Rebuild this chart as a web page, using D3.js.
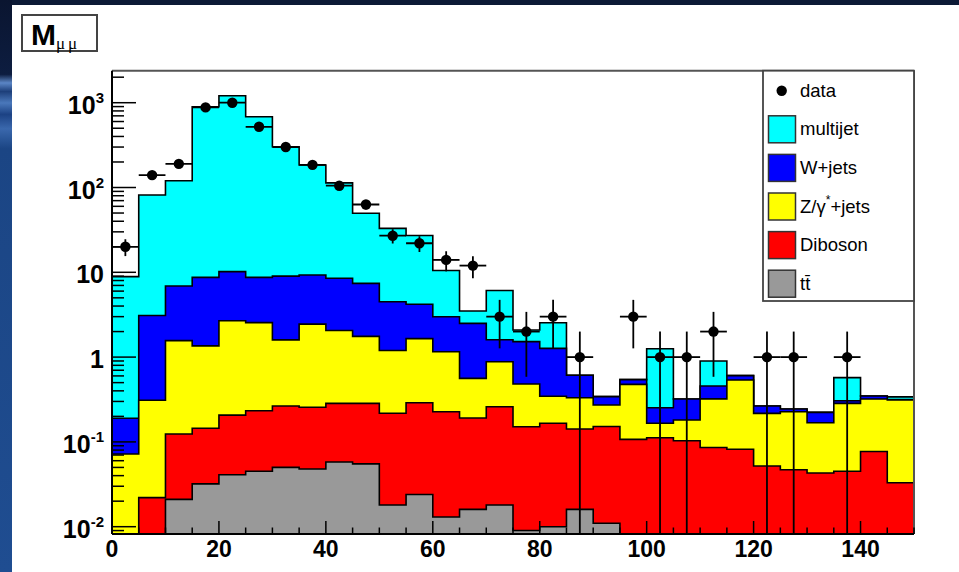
<!DOCTYPE html>
<html>
<head>
<meta charset="utf-8">
<script src="https://cdn.jsdelivr.net/npm/d3@7/dist/d3.min.js"></script>
<style>
  html, body { margin: 0; padding: 0; background: #0c1a36; }
  svg { display: block; }
</style>
</head>
<body>
<svg id="chart" width="959" height="572"></svg>
<script>
// ---------------- DATA ----------------
// bin low edges (GeV), bin width 5 GeV
const binLow = [0,5,10,15,20,25,30,35,40,45,50,55,60,65,70,75,80,85,90,95,100,105,110,115,120,125,130,135,140,145];
const binWidth = 5;

// stacked backgrounds (events per bin), bottom -> top
const ttbar    = [0,0,0.021,0.032,0.041,0.045,0.050,0.048,0.058,0.055,0.018,0.024,0.013,0.016,0.018,0.009,0.010,0.016,0.011,0,0,0,0,0,0,0,0,0,0,0];
const diboson  = [0,0.022,0.103,0.113,0.166,0.188,0.215,0.208,0.227,0.230,0.200,0.266,0.214,0.175,0.242,0.142,0.156,0.126,0.141,0.107,0.112,0.103,0.086,0.082,0.052,0.047,0.043,0.045,0.077,0.033];
const zjets    = [0.072,0.288,1.44,1.21,2.48,2.32,1.33,2.19,1.77,1.47,0.98,1.36,0.93,0.37,0.62,0.33,0.18,0.19,0.12,0.37,0.054,0.078,0.236,0.455,0.165,0.18,0.125,0.24,0.244,0.279];
const wjets    = [0.118,2.79,5.34,7.35,7.51,6.15,7.41,6.85,6.45,5.65,3.3,2.55,1.84,1.94,0.72,1.04,0.92,0.28,0.07,0.065,0.087,0.14,0.135,0.067,0.048,0.017,0.055,0.021,0.027,0.003];
const multijet = [8.71,78.5,113,888,1200,675,294,175,105,42.2,28.5,23,7.5,1.0,4.5,0.57,1.28,0,0,0,1.0,0,0.444,0,0,0,0,0.266,0,0.025];

// observed data counts
const dataCounts = [20,140,190,880,1000,520,300,185,105,63,27,22,14,12,3,2,3,1,0,3,1,1,2,0,1,1,0,1,0,0];

const seriesNames  = ["ttbar","diboson","zjets","wjets","multijet"];
const seriesColors = {ttbar:"#999999", diboson:"#ff0000", zjets:"#ffff00", wjets:"#0000ff", multijet:"#00ffff"};
const legendEntries = [
  {key:"data"}, {key:"multijet", label:"multijet"}, {key:"wjets", label:"W+jets"},
  {key:"zjets", label:"Z/γ*+jets"}, {key:"diboson", label:"Diboson"}, {key:"ttbar", label:"tt̄"}
];
const yTickLabels = [{v:0.01,b:"10",e:"-2"},{v:0.1,b:"10",e:"-1"},{v:1,b:"1",e:""},{v:10,b:"10",e:""},{v:100,b:"10",e:"2"},{v:1000,b:"10",e:"3"}];
const xTickLabels = [0,20,40,60,80,100,120,140];

// ---------------- LAYOUT ----------------
const svg = d3.select("#chart");
const fx0 = 112, fx1 = 914, fy0 = 70.7, fy1 = 534;
const yMin = 0.0082, yMax = 2385;
const x = d3.scaleLinear().domain([0,150]).range([fx0,fx1]);
const y = d3.scaleLog().domain([yMin,yMax]).range([fy1,fy0]).clamp(true);
const yc = v => y(Math.max(v, yMin));

// background (slide)
const defs = svg.append("defs");
const g1 = defs.append("linearGradient").attr("id","strip").attr("x1",0).attr("x2",0).attr("y1",0).attr("y2",1);
[[0,"#0a1530"],[0.13,"#0d1d40"],[0.145,"#5b86c6"],[0.16,"#1d3f7a"],[0.18,"#4a78bb"],[0.2,"#1c4284"],[0.225,"#3a68ad"],[0.26,"#1b4584"],[1,"#1f4d91"]]
  .forEach(s => g1.append("stop").attr("offset",s[0]).attr("stop-color",s[1]));
svg.append("rect").attr("width",959).attr("height",572).attr("fill","#0c1a36");
svg.append("rect").attr("x",0).attr("y",0).attr("width",12).attr("height",572).attr("fill","url(#strip)");
svg.append("rect").attr("x",12).attr("y",5).attr("width",947).attr("height",567).attr("fill","#ffffff");

defs.append("clipPath").attr("id","frameClip").append("rect")
  .attr("x",fx0).attr("y",fy0).attr("width",fx1-fx0).attr("height",fy1-fy0);

// ---------------- STACK ----------------
const table = binLow.map((lo,i) => ({lo, ttbar:ttbar[i], diboson:diboson[i], zjets:zjets[i], wjets:wjets[i], multijet:multijet[i]}));
const stacked = d3.stack().keys(seriesNames)(table);

const plot = svg.append("g").attr("clip-path","url(#frameClip)");
const area = d3.area()
  .curve(d3.curveStepAfter)
  .x(d => x(d.lo))
  .y0(fy1)
  .y1(d => yc(d.top));

// ROOT style: draw cumulative histograms from top layer down
for (let k = stacked.length - 1; k >= 0; k--) {
  const layer = stacked[k];
  const pts = layer.map((s,i) => ({lo: binLow[i], top: s[1]}));
  pts.push({lo: binLow[binLow.length-1] + binWidth, top: pts[pts.length-1].top});
  plot.append("path")
    .attr("d", area(pts))
    .attr("fill", seriesColors[layer.key])
    .attr("stroke", "#000")
    .attr("stroke-width", 1.6)
    .attr("stroke-linejoin","miter");
}

// ---------------- DATA POINTS ----------------
const dataG = plot.append("g");
dataCounts.forEach((n,i) => {
  if (n <= 0) return;
  const cx = x(binLow[i] + binWidth/2);
  const err = Math.sqrt(n);
  dataG.append("line").attr("x1",cx).attr("x2",cx)
    .attr("y1", yc(n - err)).attr("y2", yc(n + err))
    .attr("stroke","#000").attr("stroke-width",1.8);
  dataG.append("line").attr("x1",x(binLow[i])).attr("x2",x(binLow[i]+binWidth))
    .attr("y1", y(n)).attr("y2", y(n))
    .attr("stroke","#000").attr("stroke-width",1.8);
  dataG.append("circle").attr("cx",cx).attr("cy",y(n)).attr("r",5.2).attr("fill","#000");
});

// ---------------- FRAME & AXES ----------------
const axG = svg.append("g");
axG.append("line").attr("x1",fx0).attr("x2",fx1).attr("y1",fy0).attr("y2",fy0).attr("stroke","#555").attr("stroke-width",2);
axG.append("line").attr("x1",fx1).attr("x2",fx1).attr("y1",fy0).attr("y2",fy1).attr("stroke","#555").attr("stroke-width",2);
axG.append("line").attr("x1",fx0).attr("x2",fx0).attr("y1",fy0).attr("y2",fy1).attr("stroke","#000").attr("stroke-width",2);
axG.append("line").attr("x1",fx0).attr("x2",fx1).attr("y1",fy1).attr("y2",fy1).attr("stroke","#000").attr("stroke-width",2);

// y ticks (log, drawn inward)
const yTicks = [];
for (let e = -3; e <= 3; e++) for (let m = 1; m <= 9; m++) {
  const v = m * Math.pow(10, e);
  if (v >= yMin && v <= yMax) yTicks.push({v, major: m === 1});
}
axG.selectAll("line.yt").data(yTicks).enter().append("line")
  .attr("x1", fx0).attr("x2", d => fx0 + (d.major ? 24 : 12))
  .attr("y1", d => y(d.v)).attr("y2", d => y(d.v))
  .attr("stroke","#000").attr("stroke-width",1.5);

// x ticks every 5, major every 20 (inward)
const xTicks = d3.range(0, 151, 5);
axG.selectAll("line.xt").data(xTicks).enter().append("line")
  .attr("x1", d => x(d)).attr("x2", d => x(d))
  .attr("y1", fy1).attr("y2", d => fy1 - (d % 20 === 0 ? 13 : 6.5))
  .attr("stroke","#000").attr("stroke-width",1.5);

// x labels
axG.selectAll("text.xl").data(xTickLabels).enter().append("text")
  .attr("x", d => x(d)).attr("y", 557)
  .attr("text-anchor","middle")
  .attr("font-family","Liberation Sans, Arial, sans-serif")
  .attr("font-weight","bold").attr("font-size",23)
  .text(d => d);

// y labels
yTickLabels.forEach(t => {
  const tx = axG.append("text")
    .attr("x", 104).attr("y", y(t.v) + 11)
    .attr("text-anchor","end")
    .attr("font-family","Liberation Sans, Arial, sans-serif")
    .attr("font-weight","bold").attr("font-size",25);
  tx.append("tspan").text(t.b);
  if (t.e) tx.append("tspan").attr("dy",-11).attr("font-size",15).text(t.e);
});

// ---------------- LEGEND ----------------
const lg = svg.append("g");
const lx0 = 763, ly0 = fy0, lw = fx1 - 763, lh = 301 - fy0;
lg.append("rect").attr("x",lx0).attr("y",ly0).attr("width",lw).attr("height",lh)
  .attr("fill","#fff").attr("stroke","#444").attr("stroke-width",1.8);
legendEntries.forEach((e,i) => {
  const cy = 90.7 + i * 38.6;
  if (e.key === "data") {
    lg.append("circle").attr("cx",781.7).attr("cy",cy).attr("r",5.2).attr("fill","#000");
    lg.append("text").attr("x",800).attr("y",cy+6)
      .attr("font-family","Liberation Sans, Arial, sans-serif").attr("font-size",18.5).text("data");
  } else {
    lg.append("rect").attr("x",768.5).attr("y",cy-13.5).attr("width",27).attr("height",27)
      .attr("fill",seriesColors[e.key]).attr("stroke","#333").attr("stroke-width",1.5);
    const t = lg.append("text").attr("x",800).attr("y",cy+6)
      .attr("font-family","Liberation Sans, Arial, sans-serif").attr("font-size",18.5);
    if (e.key === "zjets") {
      t.append("tspan").text("Z/γ");
      t.append("tspan").attr("dy",-9).attr("font-size",12).text("*");
      t.append("tspan").attr("dy",9).text("+jets");
    } else {
      t.text(e.label);
    }
  }
});

// ---------------- TITLE BOX ----------------
const tg = svg.append("g");
tg.append("rect").attr("x",22).attr("y",15).attr("width",75).attr("height",36)
  .attr("fill","#fff").attr("stroke","#444").attr("stroke-width",2);
const tt = tg.append("text").attr("x",31).attr("y",45)
  .attr("font-family","Liberation Sans, Arial, sans-serif").attr("font-weight","bold").attr("font-size",30);
tt.append("tspan").text("M");
tt.append("tspan").attr("dy",4).attr("font-size",17).attr("font-weight","normal")
  .attr("font-family","Liberation Serif, serif").attr("letter-spacing",3).text("μμ");
</script>
</body>
</html>
